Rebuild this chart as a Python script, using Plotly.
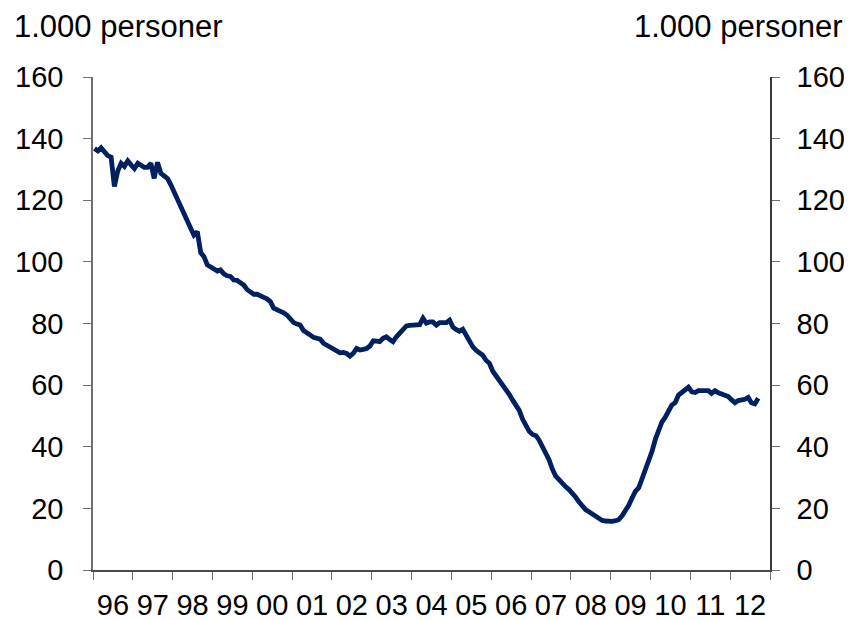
import pandas as pd
import plotly.graph_objects as go

# Monthly values, Jan 1996 - Sep 2012 (1.000 personer)
values = [
    136.8, 136.0, 137.0, 135.5, 134.5, 134.0, 124.5, 129.5, 132.0, 131.0, 132.8, 131.5,  # 1996
    130.3, 132.0, 131.2, 130.7, 130.7, 132.0, 127.1, 132.3, 128.7, 127.8, 127.0, 125.0,  # 1997
    122.5, 120.5, 118.0, 115.0, 112.5, 110.9, 108.7, 109.8, 103.0, 101.7, 99.0, 98.3,    # 1998
    97.8, 97.0, 97.4, 96.1, 95.5, 95.3, 94.1, 94.0, 93.2, 92.5, 91.0, 90.0,              # 1999
    89.5, 89.5, 88.8, 88.5, 88.0, 87.1, 85.0, 84.6, 84.2, 83.5, 82.7, 81.3,              # 2000
    80.3, 79.8, 79.5, 77.7, 76.8, 76.3, 75.5, 75.2, 74.9, 73.6, 73.0, 72.5,              # 2001
    72.0, 71.4, 70.5, 70.6, 70.3, 69.4, 70.3, 71.9, 71.4, 71.6, 71.9, 72.7,              # 2002
    74.4, 74.3, 74.1, 75.2, 75.7, 74.8, 74.1, 75.7, 77.0, 78.2, 79.2, 79.4,              # 2003
    79.5, 79.5, 79.6, 81.7, 80.1, 80.5, 80.5, 79.5, 80.3, 80.3, 80.3, 81.1,              # 2004
    78.8, 78.0, 77.5, 78.1, 76.0, 74.0, 72.5, 71.3, 70.5, 69.7, 68.0, 67.1,              # 2005
    64.5, 63.0, 61.7, 60.3, 58.8, 57.0, 55.2, 53.6, 51.8, 49.0, 47.0, 45.0,              # 2006
    44.0, 43.6, 42.2, 40.0, 37.8, 35.8, 32.8, 30.5, 29.3, 28.0, 27.0, 26.1,              # 2007
    25.0, 23.6, 22.1, 20.8, 19.6, 18.9, 18.2, 17.3, 16.4, 16.1, 15.9, 15.7,              # 2008
    15.8, 16.0, 16.3, 17.6, 19.0, 21.0, 23.3, 25.5, 26.7, 29.5, 32.5, 35.2,              # 2009
    38.5, 42.5, 45.4, 48.0, 49.5, 52.0, 53.5, 54.3, 56.8, 57.6, 58.5, 59.3,              # 2010
    57.8, 57.6, 58.2, 58.3, 58.4, 58.2, 57.3, 58.2, 57.5, 57.0, 56.5, 56.3,              # 2011
    55.2, 54.3, 55.0, 55.2, 55.4, 56.0, 54.3, 53.9, 55.7,                                # 2012
]
dates = pd.date_range("1996-01-01", periods=len(values), freq="MS") + pd.Timedelta(days=14)

y_ticks = [0, 20, 40, 60, 80, 100, 120, 140, 160]
unit_label = "1.000 personer"

line_col = "#002060"
axis_col = "#6e6e6e"
font_family = "Liberation Sans, Arial, sans-serif"

# page body has an 8px default margin, so the figure is 844x612
W, H = 844, 612
L, R, T, B = 85, 82, 69, 50
PW, PH = W - L - R, H - T - B

fig = go.Figure()
fig.add_trace(go.Scatter(x=dates, y=values, mode="lines",
                         line=dict(color=line_col, width=4.8),
                         showlegend=False, hoverinfo="skip"))
fig.add_trace(go.Scatter(x=dates, y=values, mode="lines", yaxis="y2",
                         line=dict(color="rgba(0,0,0,0)", width=0),
                         showlegend=False, hoverinfo="skip"))

fig.update_layout(
    width=W, height=H,
    margin=dict(l=L, r=R, t=T, b=B, autoexpand=False),
    paper_bgcolor="white", plot_bgcolor="white",
    font=dict(family=font_family, size=29, color="black"),
    xaxis=dict(
        type="date", automargin=False,
        range=["1996-01-01", "2013-01-01"],
        dtick="M12", tick0="1996-01-01",
        tickformat="%y", ticklabelmode="period",
        ticks="outside", ticklen=8, tickwidth=1.3, tickcolor=axis_col,
        showline=True, linecolor="#4a4a4a", linewidth=1.5,
        showgrid=False, zeroline=False,
        tickfont=dict(size=29),
        ticklabelstandoff=0,
    ),
    yaxis=dict(
        range=[0, 160], tickvals=y_ticks, automargin=False,
        ticks="outside", ticklen=8, tickwidth=1.3, tickcolor=axis_col,
        showline=True, linecolor=axis_col, linewidth=1.5,
        showgrid=False, zeroline=False,
        tickfont=dict(size=29),
        ticklabelstandoff=14,
    ),
    yaxis2=dict(
        range=[0, 160], tickvals=y_ticks, overlaying="y", side="right",
        automargin=False,
        ticks="outside", ticklen=8, tickwidth=1.3, tickcolor=axis_col,
        showline=True, linecolor="#3a3a3a", linewidth=1.5,
        showgrid=False, zeroline=False,
        tickfont=dict(size=29),
        ticklabelstandoff=11,
    ),
    annotations=[
        dict(text=unit_label, xref="paper", yref="paper", x=(4 - L) / PW, y=1 + 51 / PH,
             xanchor="left", yanchor="middle", showarrow=False,
             font=dict(size=31, family=font_family)),
        dict(text=unit_label, xref="paper", yref="paper", x=1 + 75 / PW, y=1 + 51 / PH,
             xanchor="right", yanchor="middle", showarrow=False,
             font=dict(size=31, family=font_family)),
    ],
)

fig.write_html("out.html")
